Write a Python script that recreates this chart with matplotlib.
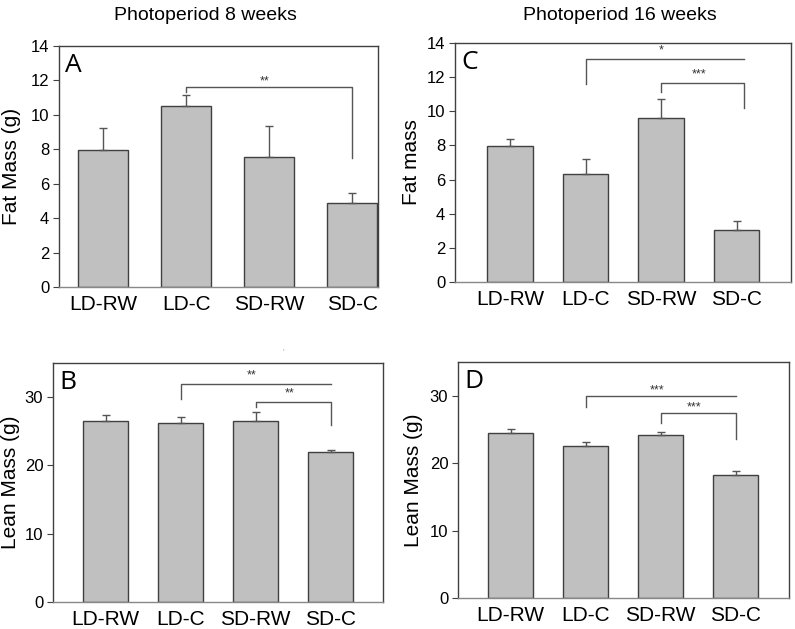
# body composition bar charts: fat and lean mass after 8 and 16 weeks of photoperiod

import matplotlib
matplotlib.use('Agg')
import matplotlib.pyplot as plt
import numpy as np


# data
# ---

groups = ['LD-RW', 'LD-C', 'SD-RW', 'SD-C']

fat_8 = [7.95, 10.5, 7.55, 4.9]
fat_8_err = [1.27, 0.65, 1.8, 0.58]

lean_8 = [26.5, 26.2, 26.5, 21.9]
lean_8_err = [0.85, 0.9, 1.3, 0.3]

fat_16 = [7.95, 6.3, 9.6, 3.05]
fat_16_err = [0.45, 0.92, 1.12, 0.55]

lean_16 = [24.4, 22.5, 24.1, 18.2]
lean_16_err = [0.7, 0.6, 0.5, 0.65]

# significance brackets: (from group, to group, height, left leg end, right leg end, label)
brackets_A = [(1, 3, 11.6, 11.3, 7.5, '**')]
brackets_B = [(1, 3, 31.9, 29.8, 31.9, '**'), (2, 3, 29.3, 28.5, 25.9, '**')]
brackets_C = [(1, 3.1, 13.05, 11.6, 13.05, '*'), (2, 3.1, 11.65, 11.15, 10.2, '***')]
brackets_D = [(1, 3, 30.0, 28.3, 30.0, '***'), (2, 3, 27.5, 26.0, 23.6, '***')]


# style
# ---

plt.rcParams['font.family'] = ['Liberation Sans', 'DejaVu Sans']
bar_col = '#c0c0c0'
edge_col = '#404040'
line_col = '#555555'


def draw_panel(ax, vals, errs, ylim, yticks, ylabel, letter, brackets, xlim, width, star_dy, label_x):
    x = np.arange(len(groups))
    ax.bar(x, vals, width=width, color=bar_col, edgecolor=edge_col, linewidth=1.0, zorder=2)
    ax.errorbar(x, vals, yerr=[np.zeros(len(errs)), errs], fmt='none',
                ecolor=line_col, elinewidth=1.0, capsize=3, capthick=1.0, zorder=3)
    ax.set_xlim(xlim)
    ax.set_ylim(ylim)
    ax.set_yticks(yticks)
    ax.set_xticks(x)
    ax.set_xticklabels(groups, fontsize=15)
    ax.tick_params(axis='x', length=0, pad=6)
    ax.tick_params(axis='y', labelsize=12, length=4, color=edge_col, direction='out', pad=3)
    ax.set_ylabel(ylabel, fontsize=15)
    ax.yaxis.set_label_coords(label_x, 0.5)
    for s in ax.spines.values():
        s.set_color(edge_col)
        s.set_linewidth(1.0)
    ax.spines['bottom'].set_color('#888888')
    ax.text(0.02, 0.97, letter, transform=ax.transAxes, fontsize=19, va='top', ha='left',
            family=['Open Sans', 'DejaVu Sans'])

    # brackets
    for g1, g2, h, l1, l2, lab in brackets:
        ax.plot([g1, g1, g2, g2], [l1, h, h, l2], color=line_col, lw=1.0, zorder=4)
        ax.text((g1 + g2) / 2 - 0.05, h + star_dy, lab, ha='center', va='center', fontsize=9,
                color='#333333')


fig = plt.figure(figsize=(7.95, 6.29), dpi=100)

axA = fig.add_axes([0.0742, 0.5437, 0.4013, 0.3836])
draw_panel(axA, fat_8, fat_8_err, (0, 14), range(0, 15, 2), 'Fat Mass (g)', 'A',
           brackets_A, (-0.53, 3.31), 0.6, 0.35, -0.12)

axC = fig.add_axes([0.5723, 0.5517, 0.4227, 0.3799])
draw_panel(axC, fat_16, fat_16_err, (0, 14), range(0, 15, 2), 'Fat mass', 'C',
           brackets_C, (-0.73, 3.72), 0.6, 0.5, -0.1)

axB = fig.add_axes([0.0667, 0.0429, 0.4151, 0.3800])
draw_panel(axB, lean_8, lean_8_err, (0, 35), [0, 10, 20, 30], 'Lean Mass (g)', 'B',
           brackets_B, (-0.7, 3.7), 0.6, 1.3, -0.1)

axD = fig.add_axes([0.5761, 0.0493, 0.4164, 0.3752])
draw_panel(axD, lean_16, lean_16_err, (0, 35), [0, 10, 20, 30], 'Lean Mass (g)', 'D',
           brackets_D, (-0.7, 3.71), 0.6, 0.8, -0.105)

# titles
fig.text(0.258, 0.975, 'Photoperiod 8 weeks', ha='center', va='center', fontsize=14)
fig.text(0.78, 0.975, 'Photoperiod 16 weeks', ha='center', va='center', fontsize=14)

# stray mark in the original
fig.text(283 / 795, 1 - 352 / 629, "'", ha='center', va='center', fontsize=6, color='#999999')

fig.savefig('out.png', dpi=100)
plt.close()
